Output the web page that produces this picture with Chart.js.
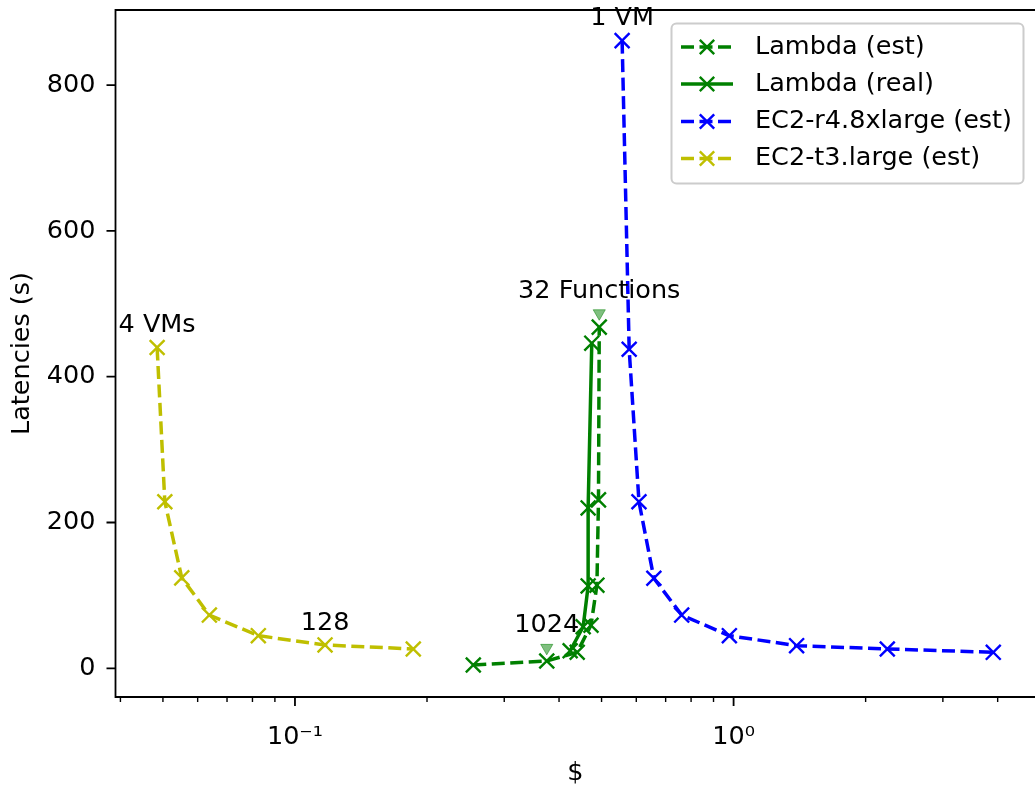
<!DOCTYPE html>
<html><head><meta charset="utf-8">
<script src="https://cdn.jsdelivr.net/npm/chart.js@4.4.1/dist/chart.umd.min.js"></script>
<style>
html,body{margin:0;padding:0;overflow:hidden;background:#fff;width:1035px;height:786px}
#wrap{width:1035px;height:786px;position:relative;overflow:hidden}
canvas{display:block}
</style>
</head><body><div id="wrap"><canvas id="c" width="1035" height="786"></canvas></div>
<script>
// ---- data ----
const lambdaEstCost = [0.255, 0.375, 0.440, 0.473, 0.488, 0.492, 0.494];
const lambdaEstLatency = [4.5, 10, 22, 59, 114, 231, 468];
const lambdaRealCost = [0.424, 0.454, 0.466, 0.466, 0.475];
const lambdaRealLatency = [24, 57, 113, 220, 446];
const r4Cost = [0.557, 0.578, 0.6085, 0.658, 0.7615, 0.978, 1.392, 2.241, 3.909];
const r4Latency = [861, 437.6, 228.5, 123.5, 73, 44.7, 31, 26.5, 21.9];
const t3Cost = [0.0485, 0.0505, 0.0552, 0.0638, 0.0825, 0.1171, 0.1861];
const t3Latency = [440, 228.5, 124, 73, 44.7, 32, 26.5];
const markerCost = [0.375, 0.494];
const markerLatency = [28, 487];
const seriesLabels = ['Lambda (est)', 'Lambda (real)', 'EC2-r4.8xlarge (est)', 'EC2-t3.large (est)'];
const xMajorTicks = [0.1, 1];
const xMajorLabels = ['10\u207B\u00B9', '10\u2070'];
const xMinorTicks = [0.04,0.05,0.06,0.07,0.08,0.09,0.2,0.3,0.4,0.5,0.6,0.7,0.8,0.9,2,3,4];
const yTicks = [0, 200, 400, 600, 800];
const annotations = [
  {text: '4 VMs', x: t3Cost[0], y: t3Latency[0]},
  {text: '128', x: t3Cost[5], y: t3Latency[5]},
  {text: '1 VM', x: r4Cost[0], y: r4Latency[0]},
  {text: '1024', x: markerCost[0], y: markerLatency[0]},
  {text: '32 Functions', x: markerCost[1], y: markerLatency[1]}
];
const xTitle = '$';
const yTitle = 'Latencies (s)';

const FONT = 'DejaVu Sans';
const FS = 25.5;
const toPts = (xs, ys) => xs.map((v, i) => ({x: v, y: ys[i]}));
const DASH = [13, 5.5];
const LW = 3.5;

function series(label, xs, ys, color, dashed) {
  return {
    label, data: toPts(xs, ys),
    borderColor: color, backgroundColor: color,
    borderWidth: LW, borderDash: dashed ? DASH : [],
    pointStyle: 'crossRot', pointRadius: 10.5, pointBorderWidth: 2.4,
    pointBorderColor: color, pointHoverRadius: 10.5,
    tension: 0, fill: false, showLine: true
  };
}

const datasets = [
  series(seriesLabels[0], lambdaEstCost, lambdaEstLatency, '#008000', true),
  series(seriesLabels[1], lambdaRealCost, lambdaRealLatency, '#008000', false),
  series(seriesLabels[2], r4Cost, r4Latency, '#0000ff', true),
  series(seriesLabels[3], t3Cost, t3Latency, '#bfbf00', true),
  {
    label: '_markers', data: toPts(markerCost, markerLatency), showLine: false,
    pointStyle: 'triangle', rotation: 180, pointRadius: 7,
    backgroundColor: 'rgba(0,128,0,0.5)', borderColor: 'rgba(0,128,0,0.5)',
    pointBorderWidth: 1
  }
];

const noPad = s => { s.paddingTop = 0; s.paddingBottom = 0; s.paddingLeft = 0; s.paddingRight = 0; };

const mplPlugin = {
  id: 'mpl',
  afterDatasetsDraw(chart) {
    const {ctx, chartArea: a, scales: {x, y}} = chart;
    ctx.save();
    // annotations
    ctx.fillStyle = '#000';
    ctx.font = FS + 'px "' + FONT + '"';
    ctx.textAlign = 'center';
    ctx.textBaseline = 'middle';
    annotations.forEach(an => {
      const px = x.getPixelForValue(an.x), py = y.getPixelForValue(an.y);
      ctx.fillText(an.text, px, py - 22);
    });
    // ticks
    ctx.strokeStyle = '#000';
    ctx.lineWidth = 1.8;
    ctx.beginPath();
    xMajorTicks.forEach(v => { const p = x.getPixelForValue(v); ctx.moveTo(p, a.bottom); ctx.lineTo(p, a.bottom + 9); });
    yTicks.forEach(v => { const p = y.getPixelForValue(v); ctx.moveTo(a.left, p); ctx.lineTo(a.left - 9, p); });
    ctx.stroke();
    ctx.lineWidth = 1.4;
    ctx.beginPath();
    xMinorTicks.forEach(v => { const p = x.getPixelForValue(v); ctx.moveTo(p, a.bottom); ctx.lineTo(p, a.bottom + 5); });
    ctx.stroke();
    // spines (right spine lies beyond the cropped edge)
    ctx.lineWidth = 1.8;
    ctx.beginPath();
    ctx.moveTo(a.right + 2, a.top); ctx.lineTo(a.left, a.top); ctx.lineTo(a.left, a.bottom); ctx.lineTo(a.right + 2, a.bottom);
    ctx.stroke();
    ctx.restore();
  },
  afterDraw(chart) {
    const {ctx} = chart;
    ctx.save();
    const bx = 671.5, by = 23.5, bw = 352, bh = 160, r = 5;
    ctx.beginPath();
    ctx.moveTo(bx + r, by);
    ctx.arcTo(bx + bw, by, bx + bw, by + bh, r);
    ctx.arcTo(bx + bw, by + bh, bx, by + bh, r);
    ctx.arcTo(bx, by + bh, bx, by, r);
    ctx.arcTo(bx, by, bx + bw, by, r);
    ctx.closePath();
    ctx.fillStyle = 'rgba(255,255,255,0.8)';
    ctx.fill();
    ctx.strokeStyle = '#cccccc';
    ctx.lineWidth = 2;
    ctx.stroke();
    const rows = [47, 84, 121.5, 158.5];
    chart.data.datasets.slice(0, 4).forEach((ds, i) => {
      const cy = rows[i];
      ctx.strokeStyle = ds.borderColor;
      ctx.lineWidth = LW;
      ctx.setLineDash(ds.borderDash || []);
      ctx.beginPath();
      ctx.moveTo(681, cy); ctx.lineTo(733, cy);
      ctx.stroke();
      ctx.setLineDash([]);
      ctx.lineWidth = 2.4;
      const m = 7.2;
      ctx.beginPath();
      ctx.moveTo(707 - m, cy - m); ctx.lineTo(707 + m, cy + m);
      ctx.moveTo(707 - m, cy + m); ctx.lineTo(707 + m, cy - m);
      ctx.stroke();
      ctx.fillStyle = '#000';
      ctx.font = FS + 'px "' + FONT + '"';
      ctx.textAlign = 'left';
      ctx.textBaseline = 'middle';
      ctx.fillText(ds.label, 755, cy);
    });
    ctx.restore();
  }
};

new Chart(document.getElementById('c'), {
  type: 'line',
  data: {datasets},
  options: {
    responsive: false, animation: false, devicePixelRatio: 1,
    layout: {autoPadding: false, padding: {top: 10, right: 0, left: 0, bottom: 0}},
    plugins: {legend: {display: false}, tooltip: {enabled: false}},
    events: [],
    scales: {
      x: {
        type: 'logarithmic', min: 0.03898, max: 4.866,
        grid: {display: false}, border: {display: false},
        afterFit: s => { s.height = 89; noPad(s); },
        afterBuildTicks: s => { s.ticks = xMajorTicks.map(v => ({value: v})); },
        ticks: {
          autoSkip: false, maxRotation: 0, padding: 17, color: '#000',
          font: {family: FONT, size: FS},
          callback: v => { const i = xMajorTicks.indexOf(v); return i >= 0 ? xMajorLabels[i] : ''; }
        },
        title: {display: true, text: xTitle, color: '#000', font: {family: FONT, size: FS, lineHeight: 1.0}, padding: {top: 0, bottom: 0}}
      },
      y: {
        min: -39.4, max: 903,
        grid: {display: false}, border: {display: false},
        afterFit: s => { s.width = 115.5; noPad(s); },
        afterBuildTicks: s => { s.ticks = yTicks.map(v => ({value: v})); },
        ticks: {padding: 12, color: '#000', font: {family: FONT, size: FS}, callback: v => String(v)},
        title: {display: true, text: yTitle, color: '#000', font: {family: FONT, size: FS}, padding: {top: 7, bottom: 0}}
      }
    }
  },
  plugins: [mplPlugin]
});
</script>
</body></html>
